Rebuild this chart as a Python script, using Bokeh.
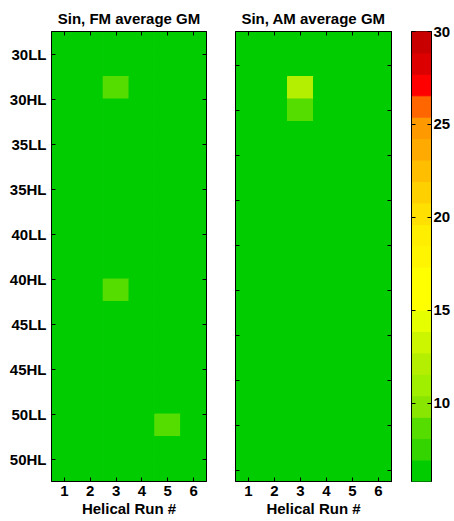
from bokeh.plotting import figure
from bokeh.models import Range1d, FixedTicker, LinearAxis, LinearColorMapper, ColumnDataSource
from bokeh.transform import transform
from bokeh.layouts import row
from bokeh.embed import file_html
from bokeh.resources import INLINE

# ---------------- data ----------------
runs = [1, 2, 3, 4, 5, 6]
row_labels = ["30LL", "30HL", "35LL", "35HL", "40LL", "40HL", "45LL", "45HL", "50LL", "50HL"]

# 20 rows (top to bottom) x 6 helical runs
fm_values = [
    [6.3, 6.3, 6.3, 6.3, 6.3, 6.3],
    [6.3, 6.3, 6.3, 6.3, 6.3, 6.3],
    [6.3, 6.3, 8.7, 6.3, 6.3, 6.3],
    [6.3, 6.3, 6.3, 6.3, 6.3, 6.3],
    [6.3, 6.3, 6.3, 6.3, 6.3, 6.3],
    [6.3, 6.3, 6.3, 6.3, 6.3, 6.3],
    [6.3, 6.3, 6.3, 6.3, 6.3, 6.3],
    [6.3, 6.3, 6.3, 6.3, 6.3, 6.3],
    [6.3, 6.3, 6.3, 6.3, 6.3, 6.3],
    [6.3, 6.3, 6.3, 6.3, 6.3, 6.3],
    [6.3, 6.3, 6.3, 6.3, 6.3, 6.3],
    [6.3, 6.3, 8.7, 6.3, 6.3, 6.3],
    [6.3, 6.3, 6.3, 6.3, 6.3, 6.3],
    [6.3, 6.3, 6.3, 6.3, 6.3, 6.3],
    [6.3, 6.3, 6.3, 6.3, 6.3, 6.3],
    [6.3, 6.3, 6.3, 6.3, 6.3, 6.3],
    [6.3, 6.3, 6.3, 6.3, 6.3, 6.3],
    [6.3, 6.3, 6.3, 6.3, 8.7, 6.3],
    [6.3, 6.3, 6.3, 6.3, 6.3, 6.3],
    [6.3, 6.3, 6.3, 6.3, 6.3, 6.3],
]
am_values = [
    [6.3, 6.3, 6.3, 6.3, 6.3, 6.3],
    [6.3, 6.3, 6.3, 6.3, 6.3, 6.3],
    [6.3, 6.3, 12.1, 6.3, 6.3, 6.3],
    [6.3, 6.3, 8.7, 6.3, 6.3, 6.3],
    [6.3, 6.3, 6.3, 6.3, 6.3, 6.3],
    [6.3, 6.3, 6.3, 6.3, 6.3, 6.3],
    [6.3, 6.3, 6.3, 6.3, 6.3, 6.3],
    [6.3, 6.3, 6.3, 6.3, 6.3, 6.3],
    [6.3, 6.3, 6.3, 6.3, 6.3, 6.3],
    [6.3, 6.3, 6.3, 6.3, 6.3, 6.3],
    [6.3, 6.3, 6.3, 6.3, 6.3, 6.3],
    [6.3, 6.3, 6.3, 6.3, 6.3, 6.3],
    [6.3, 6.3, 6.3, 6.3, 6.3, 6.3],
    [6.3, 6.3, 6.3, 6.3, 6.3, 6.3],
    [6.3, 6.3, 6.3, 6.3, 6.3, 6.3],
    [6.3, 6.3, 6.3, 6.3, 6.3, 6.3],
    [6.3, 6.3, 6.3, 6.3, 6.3, 6.3],
    [6.3, 6.3, 6.3, 6.3, 6.3, 6.3],
    [6.3, 6.3, 6.3, 6.3, 6.3, 6.3],
    [6.3, 6.3, 6.3, 6.3, 6.3, 6.3],
]

clim_low = 5.8
clim_high = 30.0
cbar_ticks = [10, 15, 20, 25, 30]
# colormap, low -> high
palette = [
    "#00CC00", "#33D400", "#55DD00", "#88E600", "#A0EE00", "#B4EE00", "#CCF500",
    "#E6FF00", "#FFFF00", "#FFFF00", "#FFF500", "#FFEE00", "#FFE000", "#FFD000",
    "#FFBF00", "#FFAA00", "#FF9900", "#FF6600", "#FF0000", "#DD0000", "#C80000",
]

# ---------------- styling ----------------
FONT = "Liberation Sans"
TICK_SIZE = "15px"
TITLE_SIZE = "15px"
H = 520
TOP = 28
BOTTOM = 39

mapper = LinearColorMapper(palette=palette, low=clim_low, high=clim_high)


def style_axis(ax, labels=True):
    ax.major_tick_in = 4
    ax.major_tick_out = 0
    ax.minor_tick_line_color = None
    ax.axis_line_color = "black"
    ax.axis_line_width = 1
    ax.major_tick_line_color = "black"
    ax.major_label_text_font = FONT
    ax.major_label_text_font_style = "bold"
    ax.major_label_text_color = "black"
    if labels:
        ax.major_label_text_font_size = TICK_SIZE
    else:
        ax.major_label_text_font_size = "1px"
        ax.major_label_text_alpha = 0
        ax.major_label_text_color = None
        ax.major_label_standoff = 0


def panel(values, title, ytick_pos, ylabels, width, bl, br):
    xs, ys, vs = [], [], []
    for r, rowvals in enumerate(values):
        for c, v in enumerate(rowvals):
            xs.append(runs[c])
            ys.append(r + 0.5)
            vs.append(v)
    src = ColumnDataSource(dict(x=xs, y=ys, v=vs))
    p = figure(width=width, height=H, x_range=Range1d(0.5, 6.5), y_range=Range1d(len(values), 0),
               toolbar_location=None, output_backend="svg",
               min_border_left=bl, min_border_right=br, min_border_top=TOP, min_border_bottom=BOTTOM)
    p.rect(x="x", y="y", width=1, height=1, source=src,
           fill_color=transform("v", mapper), line_color=transform("v", mapper), line_width=1)
    p.grid.visible = False
    p.outline_line_color = "black"
    p.outline_line_width = 1
    p.background_fill_color = "white"
    p.border_fill_color = "white"

    p.title.text = title
    p.title.align = "center"
    p.title.text_font = FONT
    p.title.text_font_size = TITLE_SIZE
    p.title.text_font_style = "bold"
    p.title.text_color = "black"
    p.title.standoff = 9

    # bottom axis
    xa = p.xaxis[0]
    xa.ticker = FixedTicker(ticks=runs)
    style_axis(xa)
    xa.major_label_standoff = 4
    xa.axis_label = "Helical Run #"
    xa.axis_label_text_font = FONT
    xa.axis_label_text_font_size = TITLE_SIZE
    xa.axis_label_text_font_style = "bold"
    xa.axis_label_text_color = "black"
    xa.axis_label_standoff = 1

    # left axis
    ya = p.yaxis[0]
    ya.ticker = FixedTicker(ticks=ytick_pos)
    if ylabels:
        style_axis(ya)
        ya.major_label_standoff = 5
        ya.major_label_overrides = {t: lab for t, lab in zip(ytick_pos, ylabels)}
    else:
        style_axis(ya, labels=False)

    # top and right axes (ticks only)
    top = LinearAxis(ticker=FixedTicker(ticks=runs))
    style_axis(top, labels=False)
    p.add_layout(top, "above")
    right = LinearAxis(ticker=FixedTicker(ticks=ytick_pos))
    style_axis(right, labels=False)
    p.add_layout(right, "right")
    return p


left_ticks = [1, 3, 5, 7, 9, 11, 13, 15, 17, 19]
mid_ticks = [1.5, 3.5, 5.5, 7.5, 9.5, 11.5, 13.5, 15.5, 17.5, 19.5]

p1 = panel(fm_values, "Sin, FM average GM", left_ticks, row_labels, 213, 51, 7)
p2 = panel(am_values, "Sin, AM average GM", mid_ticks, None, 184, 22, 6)

# ---------------- colorbar ----------------
step = (clim_high - clim_low) / len(palette)
cb_src = ColumnDataSource(dict(
    bottom=[clim_low + i * step for i in range(len(palette))],
    top=[clim_low + (i + 1) * step for i in range(len(palette))],
    color=palette,
))
p3 = figure(width=56, height=H, x_range=Range1d(0, 1), y_range=Range1d(clim_low, clim_high),
            toolbar_location=None, output_backend="svg", x_axis_location=None,
            min_border_left=14, min_border_right=19, min_border_top=31, min_border_bottom=BOTTOM - 1)
p3.quad(left=0, right=1, bottom="bottom", top="top", fill_color="color", line_color="color",
        line_width=1, source=cb_src)
p3.grid.visible = False
p3.outline_line_color = "black"
p3.outline_line_width = 1
p3.border_fill_color = "white"
cya = p3.yaxis[0]
cya.ticker = FixedTicker(ticks=cbar_ticks)
style_axis(cya, labels=False)
cr = LinearAxis(ticker=FixedTicker(ticks=cbar_ticks))
style_axis(cr)
cr.major_label_standoff = 2
p3.add_layout(cr, "right")

layout = row(p1, p2, p3)
open("out.html", "w").write(file_html(layout, INLINE))
